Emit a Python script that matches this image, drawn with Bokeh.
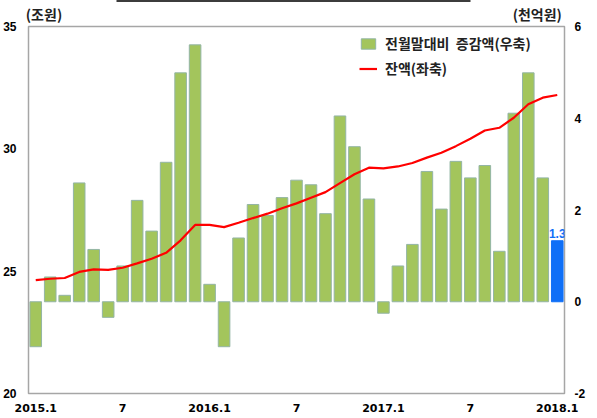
from bokeh.plotting import figure
from bokeh.models import Range1d, LinearAxis, FixedTicker, Legend, LegendItem, ColumnDataSource
from bokeh.embed import file_html
from bokeh.resources import INLINE
from bokeh.core.properties import value

# ---- data ----
months = ["2015.1", "2015.2", "2015.3", "2015.4", "2015.5", "2015.6", "2015.7", "2015.8", "2015.9", "2015.10", "2015.11", "2015.12",
          "2016.1", "2016.2", "2016.3", "2016.4", "2016.5", "2016.6", "2016.7", "2016.8", "2016.9", "2016.10", "2016.11", "2016.12",
          "2017.1", "2017.2", "2017.3", "2017.4", "2017.5", "2017.6", "2017.7", "2017.8", "2017.9", "2017.10", "2017.11", "2017.12",
          "2018.1"]
# 전월말대비 증감액 (천억원, right axis)
change = [-0.98, 0.54, 0.14, 2.59, 1.14, -0.34, 0.78, 2.21, 1.54, 3.04, 4.99, 5.60,
          0.38, -0.98, 1.39, 2.12, 1.88, 2.27, 2.65, 2.55, 1.92, 4.05, 3.38, 2.24,
          -0.25, 0.78, 1.25, 2.84, 2.02, 3.06, 2.70, 2.97, 1.10, 4.11, 4.99, 2.70,
          1.33]
# 잔액 (조원, left axis)
balance = [24.63, 24.69, 24.72, 24.97, 25.07, 25.05, 25.14, 25.32, 25.51, 25.75, 26.26, 26.89,
           26.89, 26.80, 26.98, 27.17, 27.35, 27.57, 27.77, 28.00, 28.23, 28.60, 28.96, 29.23,
           29.20, 29.28, 29.42, 29.64, 29.84, 30.11, 30.41, 30.75, 30.86, 31.27, 31.82, 32.09,
           32.20]
x_tick_labels = {"2015.1": "2015.1", "2015.7": "7", "2016.1": "2016.1", "2016.7": "7",
                 "2017.1": "2017.1", "2017.7": "7", "2018.1": "2018.1"}
left_ticks = [20, 25, 30, 35]
right_ticks = [-2, 0, 2, 4, 6]
bar_name = "전월말대비  증감액(우축)"
line_name = "잔액(좌축)"
left_unit = "(조원)"
right_unit = "(천억원)"

GREEN = "#A3C55C"
BLUE = "#0F6FF7"
KFONT = "Noto Sans CJK KR"
NFONT = "Liberation Sans"

xs = list(range(len(months)))
n = len(months)

p = figure(width=597, height=418, title=None,
           x_range=Range1d(-0.5, n - 0.5),
           y_range=Range1d(left_ticks[0], left_ticks[-1]),
           output_backend="svg", toolbar_location=None,
           min_border_left=26, min_border_right=33, min_border_top=25, min_border_bottom=25)
p.extra_y_ranges = {"right": Range1d(right_ticks[0], right_ticks[-1])}

p.xgrid.visible = False
p.ygrid.visible = False
p.outline_line_color = "#A6A6A6"
p.outline_line_width = 1.5
p.background_fill_color = "white"
p.border_fill_color = "white"

# bars
src_g = ColumnDataSource(dict(x=xs[:-1], top=change[:-1]))
src_b = ColumnDataSource(dict(x=xs[-1:], top=change[-1:]))
rg = p.vbar(x="x", top="top", bottom=0, width=0.8, source=src_g, y_range_name="right",
            fill_color=GREEN, line_color="#93B5A5", line_width=1)
p.vbar(x="x", top="top", bottom=0, width=0.8, source=src_b, y_range_name="right",
       fill_color=BLUE, line_color=BLUE, line_width=1)

# line
src_l = ColumnDataSource(dict(x=xs, y=balance))
rl = p.line(x="x", y="y", source=src_l, line_color="#FF0000", line_width=2.2)

# last value label
p.text(x=xs[-1:], y=change[-1:], text=[f"{change[-1]:.1f}"], y_range_name="right",
       y_offset=-3, text_align="center", text_baseline="bottom",
       text_color=BLUE, text_font=value(NFONT), text_font_style="bold", text_font_size="12px")


def plain(ax):
    ax.axis_line_color = None
    ax.major_tick_line_color = None
    ax.minor_tick_line_color = None
    ax.major_tick_out = 0
    ax.major_tick_in = 0
    ax.minor_tick_out = 0
    ax.minor_tick_in = 0
    ax.major_label_text_color = "black"
    ax.major_label_text_font_style = "bold"


# bottom axis
xa = p.xaxis[0]
plain(xa)
tick_idx = [months.index(k) for k in x_tick_labels]
xa.ticker = FixedTicker(ticks=tick_idx)
xa.major_label_overrides = {months.index(k): v for k, v in x_tick_labels.items()}
xa.major_label_standoff = 10
xa.major_label_text_font = "DejaVu Sans"
xa.major_label_text_font_size = "11px"

# left axis
ya = p.yaxis[0]
plain(ya)
ya.ticker = FixedTicker(ticks=left_ticks)
ya.major_label_overrides = {t: str(t) for t in left_ticks}
ya.major_label_standoff = 12
ya.major_label_text_font = NFONT
ya.major_label_text_font_size = "12px"

# right axis
ra = LinearAxis(y_range_name="right", ticker=FixedTicker(ticks=right_ticks))
plain(ra)
ra.major_label_overrides = {t: str(t) for t in right_ticks}
ra.major_label_standoff = 10
ra.major_label_text_font = NFONT
ra.major_label_text_font_size = "12px"
p.add_layout(ra, "right")

# unit headers as labels of a top axis
unit_pos = [0.57, 34.62]
ta = LinearAxis(ticker=FixedTicker(ticks=unit_pos))
plain(ta)
ta.major_label_overrides = {unit_pos[0]: left_unit, unit_pos[1]: right_unit}
ta.major_label_standoff = 3
ta.major_label_text_font = KFONT
ta.major_label_text_font_size = "14px"
ta.major_label_text_color = "#222222"
p.add_layout(ta, "above")

# dark rule at the very top (edge of the cropped title box)
la = LinearAxis(ticker=FixedTicker(ticks=[]), bounds=(5.6, 30.04))
plain(la)
la.axis_line_color = "#3C3C3C"
la.axis_line_width = 3
la.major_label_standoff = 0
la.major_label_text_font_size = "0px"
p.add_layout(la, "above")

# legend
legend = Legend(items=[LegendItem(label=bar_name, renderers=[rg]),
                       LegendItem(label=line_name, renderers=[rl])],
                location="top_right", margin=7, padding=0, spacing=5,
                glyph_width=18, glyph_height=13, label_height=16, label_width=172,
                label_standoff=8, border_line_color=None, background_fill_alpha=0,
                label_text_font=KFONT, label_text_font_style="bold", label_text_font_size="14px",
                label_text_color="#222222")
p.add_layout(legend)

open("out.html", "w").write(file_html(p, INLINE))
